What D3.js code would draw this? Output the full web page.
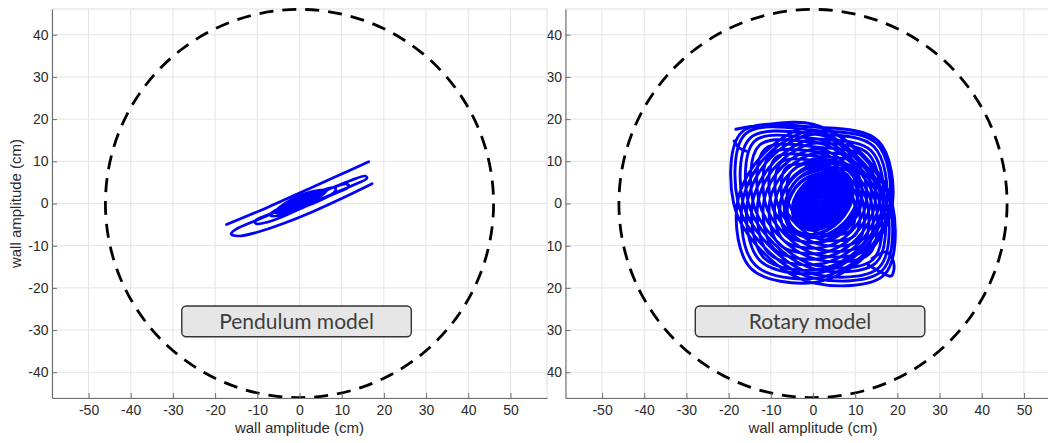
<!DOCTYPE html>
<html><head><meta charset="utf-8">
<script src="https://cdn.jsdelivr.net/npm/d3@7"></script>
<style>body{margin:0;background:#fff;} svg{display:block;}</style>
</head><body><svg id="c" width="1048" height="443"></svg>
<script>
// ---- data ----
const xTicks = [-50,-40,-30,-20,-10,0,10,20,30,40,50];
const yTicks = [-40,-30,-20,-10,0,10,20,30,40];
const xDomain = [-58.66, 58.66];
const yDomain = [-46.1, 46.1];
const wallRadius = 46;
const axisLabel = "wall amplitude (cm)";
const panelTitles = ["Pendulum model", "Rotary model"];
const titleBoxX = [-27.9, 26.5];
const titleBoxY = [-24.3, -31.6];

// Pendulum model trajectory (cm)
const pendulumSwing = [[-17.3,-5.0],[-8,-1.1],[0,2.5],[8,6.1],[16.4,9.9]];
const pendulumDecay = [
 [17.2,4.7],[10,1.2],[3,-2.0],[-4,-4.8],[-10,-6.8],[-14.5,-7.7],[-16.2,-7.2],[-15,-6.1],
 [-10,-3.9],[-3,-0.9],[5,2.6],[12,5.4],[15.6,6.5],[16,6.0],[13.5,4.7],[7,1.9],
 [0,-1.3],[-6,-3.9],[-10.2,-4.8],[-10.6,-4.2],[-7,-2.5],[0,0.6],[7,3.4],[11.2,4.6],
 [11.7,4.0],[8,2.2],[2,-0.3],[-4,-2.6],[-6.8,-2.9],[-6.5,-2.1],[-2,-0.1],[4,2.6],
 [8.3,3.8],[8.5,3.0],
 [1.09,-0.78],[-5.94,-2.13],[-0.05,1.89],[6.48,3.14],[1.01,-0.6],[-5.02,-1.74],[0.03,1.7],[5.56,2.75],
 [0.93,-0.41],[-4.1,-1.35],[0.11,1.52],[4.64,2.36],[0.85,-0.23],[-3.18,-0.96],[0.19,1.34],[3.72,1.97],
 [0.77,-0.04],[-2.26,-0.57],[0.27,1.15],[2.8,1.58],[0.7,0.14],[-1.34,-0.18],[0.34,0.97],[1.88,1.19],
 [0.62,0.32],[-0.42,0.21],[0.42,0.78],[0.96,0.8],[0.5,0.6]
];

// Rotary model trajectory (cm): outer orbits
const rotaryTrace = [
 [-18.3,17.6],[-12,18.6],
 [0,18.8],[11.7,11.7],[18.8,0],[16.9,-16.9],[0,-18.8],[-11.7,-11.7],[-18.8,0],[-16.9,16.9],
 [0.4,18.1],[15.5,14.8],[18.8,-0.3],[12.5,-12.4],[0.4,-18.7],[-14.7,-15.4],[-18,-0.3],[-11.7,11.8],
 [0.2,18.3],[11.4,11.5],[18.2,0.3],[16.4,-15.9],[0.2,-17.7],[-11,-10.9],[-17.8,0.3],[-16,16.5],
 [0.7,17.3],[15.1,14.2],[18.2,-0.2],[12.3,-11.8],[0.7,-17.7],[-13.7,-14.6],[-16.8,-0.2],[-10.9,11.4],
 [0.4,17.2],[10.9,10.7],[17.4,0.2],[15.7,-15.1],[0.4,-16.8],[-10.1,-10.3],[-16.6,0.2],[-14.9,15.5],
 [0.9,16.5],[14.4,13.5],[17.4,0],[11.8,-10.9],[0.9,-16.5],[-12.6,-13.5],[-15.6,0],[-10,10.9],
 [0.6,16.4],[10.5,10.3],[16.6,0.4],[15,-14],[0.6,-15.6],[-9.3,-9.5],[-15.4,0.4],[-13.8,14.8],
 [1.1,15.3],[13.8,12.5],[16.6,-0.2],[11.3,-10.4],[1.1,-15.7],[-11.6,-12.9],[-14.4,-0.2],[-9.1,10],
 [0.8,15.3],[10.1,9.6],[15.8,0.3],[14.3,-13.2],[0.8,-14.7],[-8.5,-9],[-14.2,0.3],[-12.7,13.8],
 [1.3,14.4],[13.1,11.8],[15.7,0],[10.8,-9.5],[1.3,-14.4],[-10.5,-11.8],[-13.1,0],[-8.2,9.5],
 [1,14.3],[9.6,9.1],[14.8,0.5],[13.4,-11.9],[1,-13.3],[-7.6,-8.1],[-12.8,0.5],[-11.4,12.9],
 [1.5,13.3],[12.3,10.9],[14.7,0.1],[10.2,-8.6],[1.5,-13.1],[-9.3,-10.7],[-11.7,0.1],[-7.2,8.8],
 [1.2,13],[9,8.2],[13.8,0.4],[12.5,-10.9],[1.2,-12.2],[-6.6,-7.4],[-11.4,0.4],[-10.1,11.7],
 [1.7,12.2],[11.5,10],[13.7,0.2],[9.6,-7.7],[1.7,-11.8],[-8.1,-9.6],[-10.3,0.2],[-6.2,8.1],
 [1.4,11.9],[8.5,7.6],[12.8,0.5],[11.7,-9.8],[1.4,-10.9],[-5.7,-6.6],[-10,0.5],[-8.9,10.8],
 [1.8,11.1],[10.7,9.2],[12.6,0.3],[8.9,-6.8],[1.8,-10.5],[-7.1,-8.6],[-9,0.3],[-5.3,7.4],
 [1.6,10.7],[7.9,6.8],[11.8,0.5],[10.8,-8.7],[1.6,-9.7],[-4.7,-5.8],[-8.6,0.5],[-7.6,9.7],
 [1.9,10],[9.8,8.3],[11.5,0.4],[8.2,-5.9],[1.9,-9.2],[-6,-7.5],[-7.7,0.4],[-4.4,6.7],
 [1.8,9.5],[7.4,6.1],[10.8,0.5],[9.9,-7.6],[1.8,-8.5],[-3.8,-5.1],[-7.2,0.5],[-6.3,8.6],
 [2,8.8],[8.9,7.3],[10.4,0.4],[7.5,-5.1],[2,-8],[-4.9,-6.5],[-6.4,0.4],[-3.5,5.9],
 [1.9,8.4],[6.7,5.4],[9.7,0.6],[8.9,-6.4],[1.9,-7.2],[-2.9,-4.2],[-5.9,0.6],[-5.1,7.6],
 [3.05,10.25],[9.6,8.3],[11.55,1.75],[7.8,-5.5],[0.55,-9.25],[-6,-7.3],[-7.95,-0.75],[-4.2,6.5],
 [3.25,9.45],[9.1,7.8],[10.75,1.95],[7.3,-4.6],[0.75,-8.05],[-5.1,-6.4],[-6.75,-0.55],[-3.3,6],
 [2.85,8.15]
];
// Rotary model trajectory (cm): central core
const rotaryCore = [
 [2.85,8.15],[8,6.8],[9.35,1.65],[6.2,-4.2],[0.35,-7.35],[-4.8,-6],[-6.15,-0.85],[-3,5],
 [3.2,7.4],[7.66,6.26],[8.8,1.8],[5.96,-3.36],[0.8,-6.2],[-3.66,-5.06],[-4.8,-0.6],[-1.96,4.56],
 [2.98,6.88],[7.21,5.81],[8.28,1.58],[5.55,-3.35],[0.62,-6.08],[-3.61,-5.01],[-4.68,-0.78],[-1.95,4.15],
 [3.05,6.65],[7.06,5.66],[8.05,1.65],[5.44,-3.04],[0.75,-5.65],[-3.26,-4.66],[-4.25,-0.65],[-1.64,4.04],
 [3.2,6.55],[7.01,5.61],[7.95,1.8],[5.46,-2.66],[1,-5.15],[-2.81,-4.21],[-3.75,-0.4],[-1.26,4.06],
 [3.05,6.15],[6.67,5.27],[7.55,1.65],[5.18,-2.58],[0.95,-4.95],[-2.67,-4.07],[-3.55,-0.45],[-1.18,3.78],
 [2.8,5.65],[6.22,4.82],[7.05,1.4],[4.8,-2.6],[0.8,-4.85],[-2.62,-4.02],[-3.45,-0.6],[-1.2,3.4],
 [2.85,5.45],[6.07,4.67],[6.85,1.45],[4.73,-2.33],[0.95,-4.45],[-2.27,-3.67],[-3.05,-0.45],[-0.93,3.33],
 [3,5.35],[6.02,4.62],[6.75,1.6],[4.75,-1.95],[1.2,-3.95],[-1.82,-3.22],[-2.55,-0.2],[-0.55,3.35],
 [2.85,4.95],[5.68,4.28],[6.35,1.45],[4.47,-1.87],[1.15,-3.75],[-1.68,-3.08],[-2.35,-0.25],[-0.47,3.07],
 [2.6,4.45],[5.23,3.83],[5.85,1.2],[4.1,-1.9],[1,-3.65],[-1.63,-3.03],[-2.25,-0.4],[-0.5,2.7],
 [2.65,4.25],[5.08,3.68],[5.65,1.25],[4.02,-1.62],[1.15,-3.25],[-1.28,-2.68],[-1.85,-0.25],[-0.22,2.62],
 [2.8,4.15],[5.03,3.63],[5.55,1.4],[4.04,-1.24],[1.4,-2.75],[-0.83,-2.23],[-1.35,0],[0.16,2.64],
 [2.65,3.75],[4.69,3.29],[5.15,1.25],[3.77,-1.17],[1.35,-2.55],[-0.69,-2.09],[-1.15,-0.05],[0.23,2.37],
 [2.4,3.25],[4.24,2.84],[4.65,1],[3.39,-1.19],[1.2,-2.45],[-0.64,-2.04],[-1.05,-0.2],[0.21,1.99],
 [2.45,3.05],[4.09,2.69],[4.45,1.05],[3.31,-0.91],[1.35,-2.05],[-0.29,-1.69],[-0.65,-0.05],[0.49,1.91],
 [2.6,2.95],[4.04,2.64],[4.35,1.2],[3.34,-0.54],[1.6,-1.55],[0.16,-1.24],[-0.15,0.2],[0.86,1.94],
 [2.45,2.55],[3.7,2.3],[3.95,1.05],[3.06,-0.46],[1.55,-1.35],[0.3,-1.1],[0.05,0.15],[0.94,1.66],
 [2.2,2.05],[3.25,1.85],[3.45,0.8],[2.68,-0.48],[1.4,-1.25],[0.35,-1.05],[0.15,0],[0.92,1.28],
 [2.25,1.85],[3.1,1.7],[3.25,0.85],[2.61,-0.21],[1.55,-0.85],[0.7,-0.7],[0.55,0.15],[1.19,1.21],
 [2.2,1.4],[2.71,1.31],[2.8,0.8],[2.42,0.18],[1.8,-0.2],[1.29,-0.11],[1.2,0.4],[1.58,1.02],[2,0.6]
];
const rotaryTailLeft = [[-18.7,14.8],[-17.5,13.2],[-15.8,12.4]];
const rotaryEar = [[14,-13],[17.5,-11.5],[19.2,-14.5],[18.5,-17.2],[16,-16.2],[13,-14.5]];

// ---- layout ----
const svg = d3.select("#c");
const W = 495, H = 389, TOP = 9;
const tickFont = "'Liberation Sans', Arial, Helvetica, sans-serif";

function drawPanel(x0, paths, title, showYLabel, whiteBg) {
  const g = svg.append("g");
  if (whiteBg) g.append("rect").attr("x",0).attr("y",0).attr("width",x0+W).attr("height",443).attr("fill","#fff");
  const x = d3.scaleLinear().domain(xDomain).range([x0, x0+W]);
  const y = d3.scaleLinear().domain(yDomain).range([TOP+H, TOP]);

  g.append("g").selectAll("line").data(xTicks).join("line")
    .attr("x1",d=>x(d)).attr("x2",d=>x(d)).attr("y1",TOP).attr("y2",TOP+H)
    .attr("stroke","#e4e4e4").attr("stroke-width",1);
  g.append("g").selectAll("line").data(yTicks).join("line")
    .attr("x1",x0).attr("x2",x0+W).attr("y1",d=>y(d)).attr("y2",d=>y(d))
    .attr("stroke","#e4e4e4").attr("stroke-width",1);
  g.append("rect").attr("x",x0).attr("y",TOP).attr("width",W).attr("height",H)
    .attr("fill","none").attr("stroke","#dedede").attr("stroke-width",1);

  g.append("circle").attr("cx",x(0)).attr("cy",y(0)).attr("r",x(wallRadius)-x(0))
    .attr("fill","none").attr("stroke","#000").attr("stroke-width",2.8)
    .attr("stroke-dasharray","14 9");

  const line = d3.line().x(d=>x(d[0])).y(d=>y(d[1])).curve(d3.curveCatmullRom.alpha(0.5));
  paths.forEach(p => g.append("path").attr("d",line(p.pts)).attr("fill","none")
    .attr("stroke","#0000ff").attr("stroke-width",p.w)
    .attr("stroke-linejoin","round").attr("stroke-linecap","round"));

  const bx0 = x(titleBoxX[0]), bx1 = x(titleBoxX[1]);
  const by0 = y(titleBoxY[0]), by1 = y(titleBoxY[1]);
  g.append("rect").attr("x",bx0).attr("y",by0).attr("width",bx1-bx0).attr("height",by1-by0)
    .attr("rx",4.5).attr("fill","#e6e6e6").attr("stroke","#333").attr("stroke-width",1.4);
  g.append("text").attr("x",(bx0+bx1)/2).attr("y",(by0+by1)/2+7.8)
    .attr("text-anchor","middle").attr("font-family","Lato, 'Open Sans', sans-serif")
    .attr("font-size",21).attr("fill","#3d3d3d").text(title);

  const fmt = d => String(d);
  const ax = d3.axisBottom(x).tickValues(xTicks).tickFormat(fmt).tickSizeInner(-5).tickSizeOuter(0).tickPadding(7);
  const ay = d3.axisLeft(y).tickValues(yTicks).tickFormat(fmt).tickSizeInner(-5).tickSizeOuter(0).tickPadding(3.5);
  const gx = g.append("g").attr("transform",`translate(0,${TOP+H})`).call(ax);
  const gy = g.append("g").attr("transform",`translate(${x0},0)`).call(ay);
  [gx,gy].forEach(a => {
    a.select(".domain").attr("stroke","#6e6e6e").attr("stroke-width",1.1);
    a.selectAll(".tick line").attr("stroke","#6e6e6e");
    a.selectAll(".tick text").attr("font-family",tickFont).attr("font-size",14).attr("fill","#2b2b2b");
  });

  g.append("text").attr("x",x(0)).attr("y",433).attr("text-anchor","middle")
    .attr("font-family",tickFont).attr("font-size",15).attr("fill","#2b2b2b").text(axisLabel);
  if (showYLabel) {
    g.append("text").attr("transform",`translate(21,${y(0)}) rotate(-90)`).attr("text-anchor","middle")
      .attr("font-family",tickFont).attr("font-size",15).attr("fill","#2b2b2b").text(axisLabel);
  }
}

drawPanel(565.5, [
  {pts: rotaryTrace, w: 2.9}, {pts: rotaryCore, w: 3.6},
  {pts: rotaryTailLeft, w: 2.9}, {pts: rotaryEar, w: 2.9}
], panelTitles[1], false, false);
drawPanel(52, [
  {pts: pendulumSwing, w: 2.7}, {pts: pendulumDecay, w: 2.7}
], panelTitles[0], true, true);
</script>
</body></html>
